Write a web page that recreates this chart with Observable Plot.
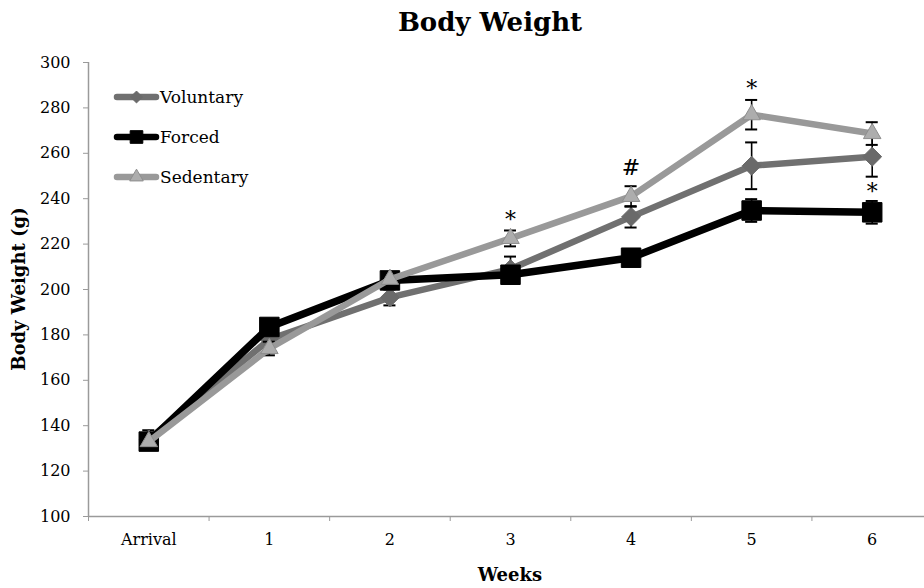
<!DOCTYPE html>
<html>
<head>
<meta charset="utf-8">
<script src="https://cdn.jsdelivr.net/npm/d3@7"></script>
<script src="https://cdn.jsdelivr.net/npm/@observablehq/plot@0.6"></script>
<style>
  html, body { margin: 0; padding: 0; background: #fff; }
  #wrap { position: relative; width: 924px; height: 588px; overflow: hidden; font-family: "DejaVu Serif", serif; }
  #chart { position: absolute; left: 0; top: 0; }
  .title { position: absolute; left: 0; width: 980px; top: 7px; text-align: center; font-weight: bold; font-size: 26px; }
  .xlabel { position: absolute; left: 410px; width: 200px; top: 564px; text-align: center; font-weight: bold; font-size: 18px; }
  .ylabel { position: absolute; left: 18px; top: 289px; transform: translate(-50%, -50%) rotate(-90deg); white-space: nowrap; font-weight: bold; font-size: 18px; }
  .legend { position: absolute; left: 112px; top: 77px; font-size: 17px; }
  .legend .item { display: flex; align-items: center; height: 40px; }
  .legend svg { display: block; }
</style>
</head>
<body>
<div id="wrap">
  <div id="chart"></div>
  <div class="title">Body Weight</div>
  <div class="ylabel">Body Weight (g)</div>
  <div class="xlabel">Weeks</div>
  <div class="legend" id="legend"></div>
</div>
<script>
// ---- data ----
const categories = ["Arrival", "1", "2", "3", "4", "5", "6"];
const seriesNames = ["Voluntary", "Forced", "Sedentary"];
const voluntary = [134, 178, 196.5, 209, 232, 254.5, 258.5];
const forced = [133, 183.5, 204, 206.5, 214, 234.8, 234];
const sedentary = [133, 174, 204.5, 222.5, 241, 277, 268.7];
const voluntaryErr = [4, 4, 3.5, 5.5, 4.7, 10.3, 8.8];
const forcedErr = [3, 3, 3, 3, 3, 5, 5];
const sedentaryErr = [3, 3, 3, 3.5, 4.5, 6.5, 5];
const annotationWeeks = ["3", "4", "5", "6"];
const annotationLabels = ["*", "#", "*", "*"];
const annotationValues = [230.5, 253.5, 288.5, 243];
const yTicks = [100, 120, 140, 160, 180, 200, 220, 240, 260, 280, 300];

// ---- styles (kept apart from data) ----
const styles = {
  Voluntary: { stroke: "#707070", fill: "#6a6a6a", symbol: "diamond2", r: 8.5, width: 6.5, markStroke: "#6a6a6a" },
  Forced:    { stroke: "#000000", fill: "#000000", symbol: "square", r: 11, width: 7.5, markStroke: "#000" },
  Sedentary: { stroke: "#999999", fill: "#adadad", symbol: "triangle", r: 6.5, width: 6.5, markStroke: "#8e8e8e" }
};

const valuesBySeries = { Voluntary: voluntary, Forced: forced, Sedentary: sedentary };
const errBySeries = { Voluntary: voluntaryErr, Forced: forcedErr, Sedentary: sedentaryErr };

const rows = seriesNames.flatMap(s => categories.map((c, i) => ({
  series: s, i, week: c, value: valuesBySeries[s][i], err: errBySeries[s][i]
})));
const annotations = annotationWeeks.map((w, k) => ({
  i: categories.indexOf(w), label: annotationLabels[k], value: annotationValues[k]
}));
const idx = categories.map((c, i) => i);
const edges = [...idx.map(i => i - 0.5), categories.length - 0.5];

const capHalf = 0.05;
const seriesMarks = seriesNames.flatMap(s => {
  const d = rows.filter(r => r.series === s);
  const st = styles[s];
  return [
    Plot.ruleX(d, { x: "i", y1: r => r.value - r.err, y2: r => r.value + r.err, stroke: "black", strokeWidth: 1.6 }),
    Plot.ruleY(d, { x1: r => r.i - capHalf, x2: r => r.i + capHalf, y: r => r.value + r.err, stroke: "black", strokeWidth: 2 }),
    Plot.ruleY(d, { x1: r => r.i - capHalf, x2: r => r.i + capHalf, y: r => r.value - r.err, stroke: "black", strokeWidth: 2 }),
    Plot.line(d, { x: "i", y: "value", stroke: st.stroke, strokeWidth: st.width, strokeLinejoin: "round", strokeLinecap: "round" }),
    Plot.dot(d, { x: "i", y: "value", symbol: st.symbol, r: st.r, fill: st.fill, stroke: st.markStroke, strokeWidth: 1 })
  ];
});

const chart = Plot.plot({
  width: 924,
  height: 588,
  marginTop: 62,
  marginBottom: 72,
  marginLeft: 88,
  marginRight: 0,
  style: { fontFamily: "DejaVu Serif, serif", fontSize: "17px", color: "black", background: "white" },
  x: { type: "linear", domain: [-0.5, categories.length - 0.5], range: [88, 932] },
  y: { domain: [100, 300], range: [516, 62] },
  marks: [
    Plot.ruleX([-0.5], { stroke: "#9a9a9a", strokeWidth: 1.5 }),
    Plot.ruleY([100], { stroke: "#9a9a9a", strokeWidth: 1.5 }),
    Plot.axisY({ ticks: yTicks, tickSize: 5, tickPadding: 13, stroke: "#9a9a9a", fill: "black", label: null, tickFormat: d => d, fontSize: 16 }),
    Plot.axisX({ ticks: edges, tickSize: 5, tickFormat: () => "", stroke: "#9a9a9a", label: null }),
    Plot.axisX({ ticks: idx, tickSize: 0, tickPadding: 17, tickFormat: i => categories[i], fill: "black", label: null, fontSize: 16 }),
    ...seriesMarks,
    Plot.text(annotations, { x: "i", y: "value", text: "label", fontSize: 22, fill: "black" })
  ]
});
document.getElementById("chart").appendChild(chart);

// ---- legend ----
const legend = d3.select("#legend");
const symbolMap = { diamond2: d3.symbolDiamond2, square: d3.symbolSquare, triangle: d3.symbolTriangle };
const legendSizes = { Voluntary: 90, Forced: 160, Sedentary: 80 };
seriesNames.forEach(s => {
  const st = styles[s];
  const item = legend.append("div").attr("class", "item");
  const svg = item.append("svg").attr("width", 48).attr("height", 20);
  svg.append("line").attr("x1", 5).attr("x2", 44).attr("y1", 10).attr("y2", 10)
    .attr("stroke", st.stroke).attr("stroke-width", 6.5).attr("stroke-linecap", "round");
  svg.append("path").attr("transform", "translate(24.5,10)")
    .attr("d", d3.symbol(symbolMap[st.symbol], legendSizes[s])())
    .attr("fill", st.fill).attr("stroke", st.markStroke);
  item.append("span").text(s);
});
</script>
</body>
</html>
